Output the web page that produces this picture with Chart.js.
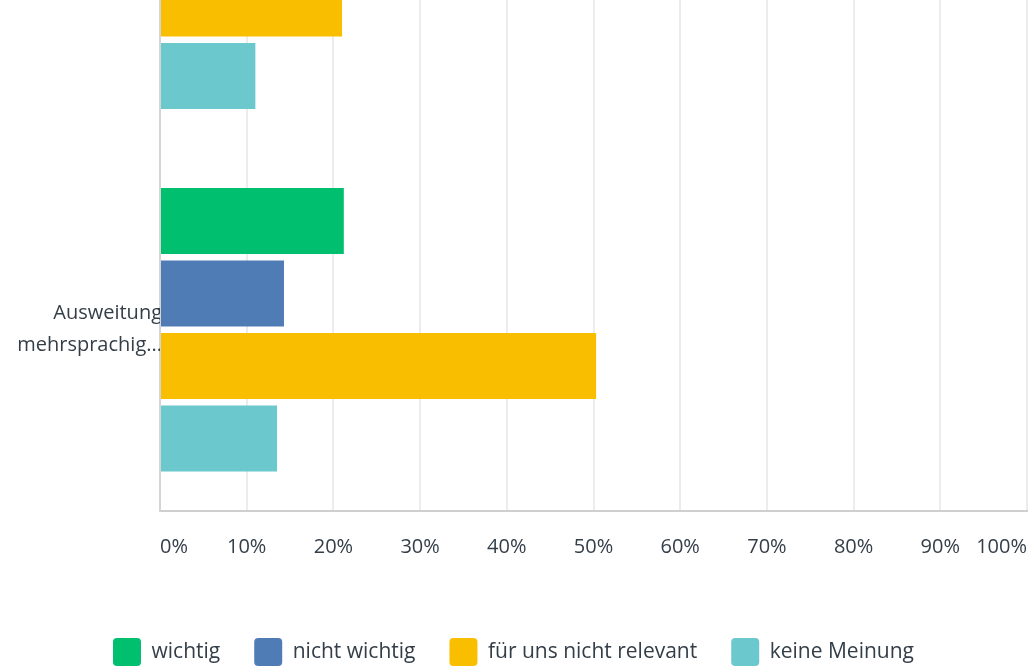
<!DOCTYPE html>
<html>
<head>
<meta charset="utf-8">
<script src="https://cdn.jsdelivr.net/npm/chart.js@4"></script>
<style>
  html, body { margin: 0; padding: 0; background: #fff; overflow: hidden; }
  #wrap { position: relative; width: 1030px; height: 892px; margin-top: -214px; }
</style>
</head>
<body>
<div id="wrap"><canvas id="chart"></canvas></div>
<script>
const categories = [
    ["Ausbau", "digitaler Angebote"],
    ["Ausweitung", "mehrsprachig..."]
]
const seriesNames = ["wichtig", "nicht wichtig", "für uns nicht relevant", "keine Meinung"]
const seriesColors = ["#00bf6f", "#507cb6", "#f9be00", "#6bc8cd"]

const wichtig = [0.47, 0.212]
const nichtWichtig = [0.21, 0.143]
const nichtRelevant = [0.21, 0.503]
const keineMeinung = [0.11, 0.135]

const tickValues = [0, 0.1, 0.2, 0.3, 0.4, 0.5, 0.6, 0.7, 0.8, 0.9, 1]

const fontFamily = "'Open Sans', sans-serif"
const textColor = "#333e48"

const ctx = document.getElementById("chart").getContext("2d")

const chart = new Chart(ctx, {
    type: "bar",
    data: {
        labels: categories,
        datasets: [wichtig, nichtWichtig, nichtRelevant, keineMeinung].map((d, i) => ({
            label: seriesNames[i],
            data: d,
            backgroundColor: seriesColors[i],
            borderWidth: 0,
            categoryPercentage: 0.8,
            barPercentage: 0.91
        }))
    },
    options: {
        indexAxis: "y",
        responsive: true,
        maintainAspectRatio: false,
        animation: false,
        layout: { padding: { top: 0, right: 3, bottom: 2, left: 0 } },
        plugins: {
            tooltip: { enabled: false },
            legend: {
                position: "bottom",
                labels: {
                    color: textColor,
                    font: { family: fontFamily, size: 21 },
                    boxWidth: 28,
                    boxHeight: 28,
                    useBorderRadius: true,
                    borderRadius: 4,
                    padding: 34
                }
            }
        },
        scales: {
            x: {
                min: 0,
                max: 1,
                afterBuildTicks: s => { s.ticks = tickValues.map(v => ({ value: v })) },
                afterFit: s => { s.paddingRight = 0; s.paddingLeft = 0; s.height += 21 },
                grid: { color: "#ececec", lineWidth: 2, drawTicks: false },
                border: { color: "#cfcfcf", width: 2 },
                ticks: {
                    color: textColor,
                    font: { family: fontFamily, size: 20 },
                    padding: 24,
                    align: "inner",
                    maxRotation: 0,
                    autoSkip: false,
                    callback: v => Math.round(v * 100) + "%"
                }
            },
            y: {
                grid: { display: false, drawTicks: false },
                border: { color: "#d4d4d4", width: 2 },
                afterFit: s => { s.width = 160; s.paddingTop = 0; s.paddingBottom = 0 },
                ticks: {
                    color: textColor,
                    font: { family: fontFamily, size: 20, lineHeight: 1.6 },
                    padding: -2
                }
            }
        }
    }
})
</script>
</body>
</html>
